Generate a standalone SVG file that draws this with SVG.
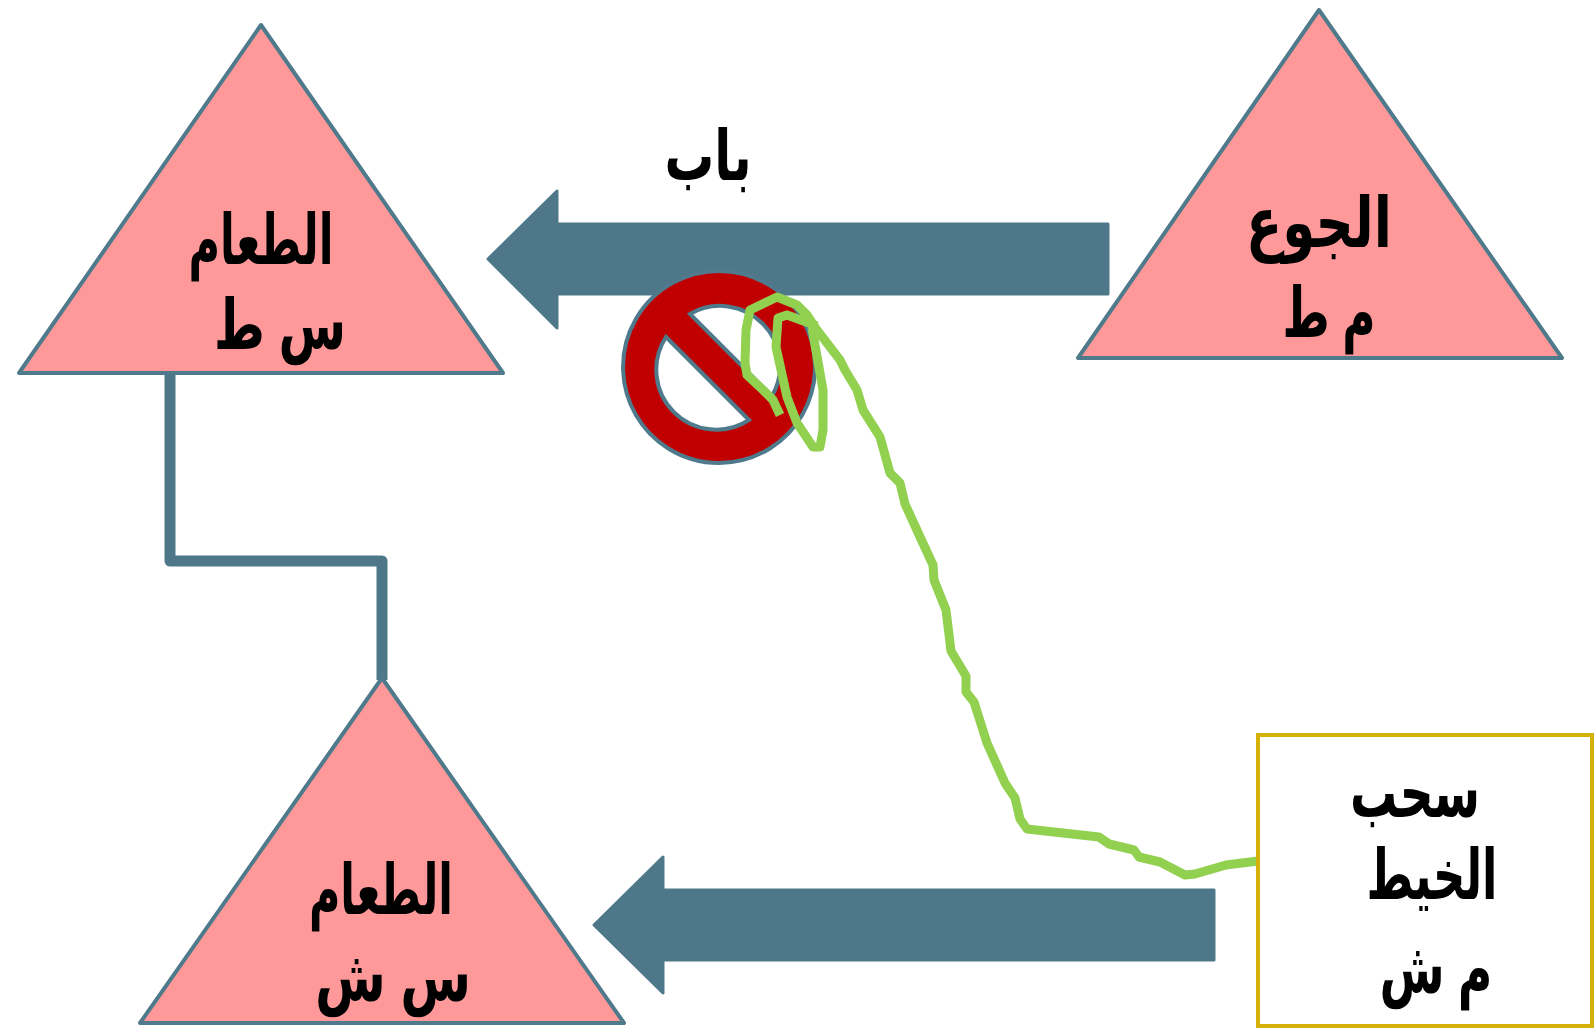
<svg xmlns="http://www.w3.org/2000/svg" width="1595" height="1030" viewBox="0 0 1595 1030">
<style>
.tri{fill:#ff9999;stroke:#4f7a8c;stroke-width:4;stroke-linejoin:round}
.arrow{fill:#4e7889;stroke:#4e7889;stroke-width:3;stroke-linejoin:round}
.t{font-family:"Liberation Sans","DejaVu Sans",sans-serif;font-weight:bold;font-size:70px;fill:#000;text-anchor:middle}
.g{fill:none;stroke:#92d050;stroke-width:9;stroke-linejoin:round;stroke-linecap:butt}
</style>
<rect width="1595" height="1030" fill="#fff"/>
<g id="connectors">
<path d="M170 373V561H382V680" fill="none" stroke="#4e7889" stroke-width="11" stroke-linejoin="round"/>
<path class="arrow" d="M1108 224V294H557V328L488 259L557 191V224Z"/>
<path class="arrow" d="M1214 890V960H663V993L594 925L663 857V890Z"/>
</g>
<g id="food1"><path class="tri" d="M261 25L503 373H19Z"/><text class="t" x="261" y="264" textLength="145" lengthAdjust="spacingAndGlyphs">الطعام</text><text class="t" x="280" y="349" textLength="132" lengthAdjust="spacingAndGlyphs">س ط</text></g>
<g id="hunger"><path class="tri" d="M1319 10L1562 358H1078Z"/><text class="t" x="1319" y="247" textLength="146" lengthAdjust="spacingAndGlyphs">الجوع</text><text class="t" x="1329" y="337" textLength="93" lengthAdjust="spacingAndGlyphs">م ط</text></g>
<g id="food2"><path class="tri" d="M382 678L624 1023H140Z"/><text class="t" x="381" y="914" textLength="144" lengthAdjust="spacingAndGlyphs">الطعام</text><text class="t" x="393" y="1001" textLength="156" lengthAdjust="spacingAndGlyphs">س ش</text></g>
<g id="label-door"><text class="t" x="708" y="180" textLength="87" lengthAdjust="spacingAndGlyphs">باب</text></g>
<g id="no-sign"><path fill="#c00000" stroke="#4f7a8c" stroke-width="4" fill-rule="evenodd" d="M719 271a96 96 0 1 0 .1 0ZM690 314A60 60 0 0 1 772 396ZM666 337A60 60 0 0 0 749 420Z"/></g>
<g id="thread"><path class="g" d="M1258 861L1226 865L1195 874L1185 875L1160 862L1139 857L1134 850L1109 844L1099 837L1027 829L1020 819L1015 798L1005 783L987 743L974 702L966 692L966 676L951 651L946 610L934 580L933 565L921 539L905 504L900 483L890 473L880 437L863 410L857 390L845 370L840 360L817 330L807 315L797 305L777 297L750 310L746 330L745 363L747 375L763 390L773 400L780 415M817 326L787 315L778 318L776 347L787 397L797 423L813 447L820 447L823 430V390L812 328"/></g>
<g id="pull"><rect x="1258" y="735" width="334" height="291" fill="#fff" stroke="#d4b106" stroke-width="4"/><text class="t" x="1415" y="817" textLength="130" lengthAdjust="spacingAndGlyphs">سحب</text><text class="t" x="1432" y="899" textLength="131" lengthAdjust="spacingAndGlyphs">الخيط</text><text class="t" x="1436" y="993" textLength="113" lengthAdjust="spacingAndGlyphs">م ش</text></g>
</svg>
